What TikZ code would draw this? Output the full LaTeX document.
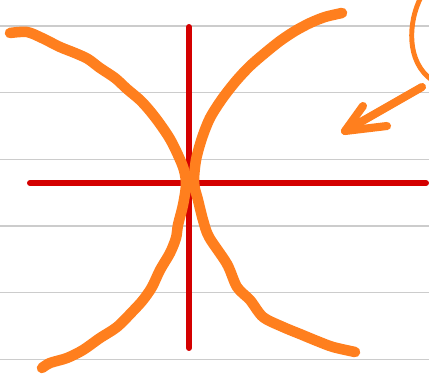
\documentclass[tikz,border=0pt]{standalone}
\usepackage{tikz}
\usetikzlibrary{arrows.meta}

\definecolor{orangetrait}{RGB}{255,127,30}
\definecolor{rougeaxe}{RGB}{212,0,0}
\definecolor{grisligne}{RGB}{204,204,204}

\tikzset{
    ligne/.style={grisligne,line width=0.9pt},
    axe/.style={rougeaxe,line width=3.4pt,line cap=round},
    trait/.style={orangetrait,line width=6pt,line cap=round,line join=round}
}

\begin{document}
\begin{tikzpicture}[x=0.02cm,y=-0.02cm]

% Cadre
\useasboundingbox (0,0) rectangle (429,378);

% Lignes du cahier
\foreach \k in {0,...,5} {
    \draw[ligne] (0,{26+66.67*\k}) -- (429,{26+66.67*\k});
}

% Axes
\coordinate (haut) at (189,27);
\coordinate (bas) at (189,348);
\coordinate (gauche) at (30,183);
\coordinate (droite) at (426,183);
\draw[axe] (haut) -- (bas);
\draw[axe] (gauche) -- (droite);

% Branche gauche
\draw[trait] plot[smooth,tension=0.5] coordinates {
    (10,33) (27,32) (42,38) (60,47) (75,53) (88,59) (100,68) (115,78)
    (127,89) (140,100) (150,111) (160,124) (170,139) (178,155) (184,170)
    (186,185) (183,205) (178,225) (176,238) (170,253) (160,270) (152,287)
    (143,300) (133,311) (117,327) (100,338) (83,350) (67,358) (50,363) (42,368)
};

% Branche droite
\draw[trait] plot[smooth,tension=0.5] coordinates {
    (342,13) (325,17) (310,23) (295,31) (280,41) (265,53) (250,66) (236,81)
    (222,99) (210,118) (202,138) (196,160) (194,183) (198,200) (203,220)
    (209,237) (227,264) (237,287) (250,300) (263,317) (283,327)
    (300,334) (317,341) (333,347) (355,352)
};

% Cercle (coupe)
\draw[orangetrait,line width=2.8pt,line cap=round] (421,-3) .. controls (408,22) and (406,62) .. (432,80);

% Fleche
\coordinate (depart) at (422,87);
\coordinate (pointe) at (345,131);
\coordinate (barbeA) at (363,106);
\coordinate (barbeB) at (387,126);
\draw[trait,line width=4.6pt] (depart) -- (pointe);
\draw[trait,line width=4.6pt] (barbeA) -- (pointe) -- (barbeB);

\end{tikzpicture}
\end{document}
